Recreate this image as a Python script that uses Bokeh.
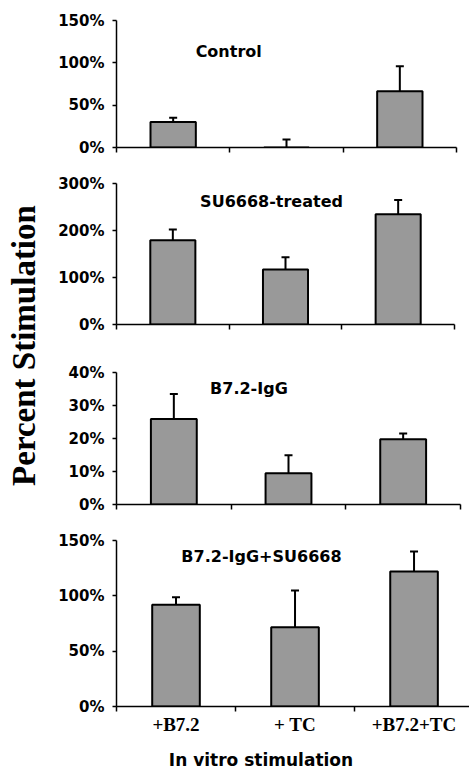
import math
from bokeh.plotting import figure
from bokeh.layouts import row, column
from bokeh.models import (FixedTicker, PrintfTickFormatter, Whisker, TeeHead,
                          ColumnDataSource, Label, Range1d)
from bokeh.embed import file_html
from bokeh.resources import INLINE

# ---------------- data ----------------
categories = ["+B7.2", "+ TC", "+B7.2+TC"]
panel_titles = ["Control", "SU6668-treated", "B7.2-IgG", "B7.2-IgG+SU6668"]

control_vals = [30, 0, 66.5]
control_err = [5, 9.5, 29.5]
su_vals = [179, 117, 234.5]
su_err = [23, 26, 30.5]
igg_vals = [25.9, 9.5, 19.8]
igg_err = [7.6, 5.4, 1.7]
combo_vals = [92, 71.6, 122]
combo_err = [6.7, 33.2, 18]

control_ticks = [0, 50, 100, 150]
su_ticks = [0, 100, 200, 300]
igg_ticks = [0, 10, 20, 30, 40]
combo_ticks = [0, 50, 100, 150]

y_label = "Percent Stimulation"
x_label = "In vitro stimulation"

# ---------------- style ----------------
SANS = "DejaVu Sans"
SERIF = "Liberation Serif"
BAR_FILL = "#999999"

LABEL_W = 42
TOTAL_H = 770
BL = 74          # common left border (frames are aligned in the column)
XLAB_H = 33

centers = [i + 0.5 for i in range(len(categories))]
bounds = [float(i) for i in range(len(categories) + 1)]


def make_panel(vals, errs, yticks, title, lay, last=False):
    p = figure(frame_width=lay["fw"], frame_height=lay["fh"],
               x_range=Range1d(0, lay["xend"]), y_range=Range1d(0, yticks[-1]),
               output_backend="svg", toolbar_location=None,
               min_border_left=BL, min_border_right=lay["br"],
               min_border_top=lay["bt"], min_border_bottom=lay["bb"])
    p.xgrid.visible = False
    p.ygrid.visible = False
    p.outline_line_color = None
    p.background_fill_color = "white"
    p.border_fill_color = "white"

    src = ColumnDataSource(dict(x=centers, top=vals,
                                hi=[v + e for v, e in zip(vals, errs)]))
    p.vbar(x="x", top="top", width=0.4, bottom=0, source=src,
           fill_color=BAR_FILL, line_color="black", line_width=2)
    w = Whisker(source=src, base="x", lower="top", upper="hi",
                dimension="height", line_color="black", line_width=2,
                upper_head=TeeHead(size=8, line_width=2, line_color="black"),
                lower_head=None)
    p.add_layout(w)

    # y axis
    ya = p.yaxis[0]
    ya.ticker = FixedTicker(ticks=yticks)
    ya.formatter = PrintfTickFormatter(format="%d%%")
    ya.major_tick_out = 4
    ya.major_tick_in = 0
    ya.minor_tick_out = 0
    ya.minor_tick_in = 0
    ya.axis_line_color = "black"
    ya.axis_line_width = 1.5
    ya.major_tick_line_width = 1.5
    ya.major_label_standoff = 8
    ya.major_label_text_font = SANS
    ya.major_label_text_font_style = "bold"
    ya.major_label_text_font_size = "15px"
    ya.major_label_text_color = "black"

    # x axis: boundary ticks as minor ticks, labels at category centres
    xa = p.xaxis[0]
    xa.ticker = FixedTicker(ticks=centers, minor_ticks=bounds)
    xa.major_tick_out = 0
    xa.major_tick_in = 0
    xa.minor_tick_out = 5
    xa.minor_tick_in = 0
    xa.minor_tick_line_width = 1.5
    xa.minor_tick_line_color = "black"
    xa.axis_line_color = "black"
    xa.axis_line_width = 1.5
    if last:
        xa.major_label_overrides = {c: lab for c, lab in zip(centers, categories)}
        xa.major_label_text_font = SERIF
        xa.major_label_text_font_style = "bold"
        xa.major_label_text_font_size = "19px"
        xa.major_label_text_color = "black"
        xa.major_label_standoff = 2
    else:
        xa.major_label_overrides = {c: "" for c in centers}
        xa.major_label_text_font_size = "0px"
        xa.major_label_standoff = 0

    p.add_layout(Label(x=lay["tx"], y=lay["ty"], text=title,
                       text_align="center", text_baseline="middle",
                       text_font=SANS, text_font_style="bold",
                       text_font_size="16px", text_color="black"))
    return p


lays = [
    dict(fw=340, fh=127, xend=3.0, br=9, bt=20, bb=18, tx=0.99, ty=113.4),
    dict(fw=338, fh=141, xend=3.0, br=11, bt=18, bb=26, tx=1.376, ty=261.7),
    dict(fw=344, fh=132, xend=3.0, br=5, bt=22, bb=21, tx=1.155, ty=35.2),
    dict(fw=353, fh=166, xend=2.966, br=0, bt=15, bb=31, tx=1.218, ty=135.5),
]

p1 = make_panel(control_vals, control_err, control_ticks, panel_titles[0], lays[0])
p2 = make_panel(su_vals, su_err, su_ticks, panel_titles[1], lays[1])
p3 = make_panel(igg_vals, igg_err, igg_ticks, panel_titles[2], lays[2])
p4 = make_panel(combo_vals, combo_err, combo_ticks, panel_titles[3], lays[3], last=True)


def blank(w, h, left=0):
    f = figure(frame_width=w, frame_height=h,
               x_range=Range1d(0, w), y_range=Range1d(0, h),
               x_axis_type=None, y_axis_type=None,
               output_backend="svg", toolbar_location=None,
               min_border_left=left, min_border_right=0,
               min_border_top=0, min_border_bottom=0)
    f.xgrid.visible = False
    f.ygrid.visible = False
    f.outline_line_color = None
    return f


# strip below the panels with the shared x-axis title
xp = blank(353, XLAB_H, left=BL)
xp.add_layout(Label(x=144.5, y=11, text=x_label, text_align="center",
                    text_baseline="alphabetic", text_font=SANS,
                    text_font_style="bold", text_font_size="17px",
                    text_color="black"))

# left strip with the shared y-axis title
lp = blank(LABEL_W, TOTAL_H)
lp.add_layout(Label(x=23.5, y=425, text=y_label, angle=math.pi / 2,
                    text_align="center", text_baseline="middle",
                    text_font=SERIF, text_font_style="bold",
                    text_font_size="33px", text_color="black"))

layout = row(lp, column(p1, p2, p3, p4, xp, spacing=0), spacing=0)

open("out.html", "w").write(file_html(layout, INLINE))
